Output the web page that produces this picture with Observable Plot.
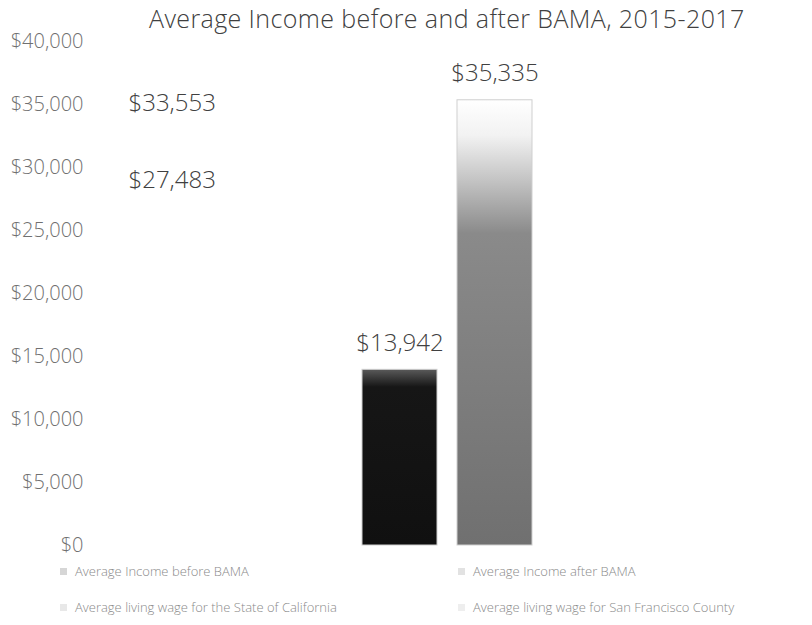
<!DOCTYPE html>
<html><head><meta charset="utf-8">
<script src="https://cdn.jsdelivr.net/npm/d3@7"></script>
<script src="https://cdn.jsdelivr.net/npm/@observablehq/plot@0.6"></script>
<style>
body{margin:0;background:#fff;font-family:"Open Sans",sans-serif;position:relative;}
#title{position:absolute;top:0;left:0;height:36px;line-height:36px;font-size:25px;letter-spacing:0.4px;font-weight:300;color:#404040;padding-left:149px;white-space:nowrap;}
#legend{position:relative;height:65px;font-size:13px;color:#8a8a8a;font-weight:300;}
.item{position:absolute;white-space:nowrap;display:flex;align-items:center;line-height:18px;}
.sw{width:7px;height:7px;margin-right:8px;display:inline-block;}
</style></head><body>
<div id="chart"></div>
<div id="title">Average Income before and after BAMA, 2015-2017</div>
<div id="legend"></div>
<script>
const categories = ["Average Income before BAMA", "Average Income after BAMA"];
const incomeValues = [13942, 35335];
const livingWageSeries = ["Average living wage for the State of California", "Average living wage for San Francisco County"];
const livingWageValues = [27483, 33553];
const yTicks = [0, 5000, 10000, 15000, 20000, 25000, 30000, 35000, 40000];
const legendOrder = ["Average Income before BAMA", "Average Income after BAMA", "Average living wage for the State of California", "Average living wage for San Francisco County"];
const legendColors = ["#d6d6d6", "#e2e2e2", "#e8e8e8", "#eeeeee"];

const fmt = d3.format("$,");
const income = categories.map((c, i) => ({category: c, value: incomeValues[i]}));
const wages = livingWageSeries.map((s, i) => ({series: s, value: livingWageValues[i]}));

const chart = Plot.plot({
  width: 812, height: 560,
  marginTop: 41, marginBottom: 15, marginLeft: 90, marginRight: 20,
  x: {domain: categories, range: [362, 533], paddingInner: 0.21, paddingOuter: 0, axis: null},
  y: {domain: [0, 40000], axis: null},
  style: {fontFamily: "Open Sans, sans-serif", background: "#fff"},
  marks: [
    Plot.axisY({ticks: yTicks, tickFormat: fmt, tickSize: 0, tickPadding: 7, fontSize: 20, fill: "#707070", fontWeight: 300, label: null}),
    Plot.barY(income, {x: "category", y: "value", fill: (d, i) => i === 0 ? "url(#gBefore)" : "url(#gAfter)", stroke: "#cfcfcf", strokeWidth: 1}),
    Plot.text(income, {x: "category", y: "value", text: d => fmt(d.value), dy: -27, fontSize: 24, fill: "#404040", fontWeight: 300}),
    Plot.text(wages, {y: "value", text: d => fmt(d.value), frameAnchor: "left", dx: 38, textAnchor: "start", dy: -19, fontSize: 24, fill: "#404040", fontWeight: 300})
  ]
});
const svg = d3.select(chart);
const defs = svg.insert("defs", ":first-child");
const g1 = defs.append("linearGradient").attr("id", "gBefore").attr("x1", 0).attr("y1", 0).attr("x2", 0).attr("y2", 1);
g1.append("stop").attr("offset", "0%").attr("stop-color", "#5a5a5a");
g1.append("stop").attr("offset", "10%").attr("stop-color", "#161616");
g1.append("stop").attr("offset", "100%").attr("stop-color", "#101010");
const g2 = defs.append("linearGradient").attr("id", "gAfter").attr("x1", 0).attr("y1", 0).attr("x2", 0).attr("y2", 1);
g2.append("stop").attr("offset", "0%").attr("stop-color", "#ffffff");
g2.append("stop").attr("offset", "8%").attr("stop-color", "#f2f2f2");
g2.append("stop").attr("offset", "18%").attr("stop-color", "#c4c4c4");
g2.append("stop").attr("offset", "30%").attr("stop-color", "#8a8a8a");
g2.append("stop").attr("offset", "100%").attr("stop-color", "#707070");
document.getElementById("chart").appendChild(chart);

const legend = document.getElementById("legend");
const pos = [[60, 2], [458, 2], [60, 38], [458, 38]];
legendOrder.forEach((name, i) => {
  const el = document.createElement("div");
  el.className = "item";
  el.style.left = pos[i][0] + "px";
  el.style.top = pos[i][1] + "px";
  el.innerHTML = `<span class="sw" style="background:${legendColors[i]}"></span>${name}`;
  legend.appendChild(el);
});
</script>
</body></html>
